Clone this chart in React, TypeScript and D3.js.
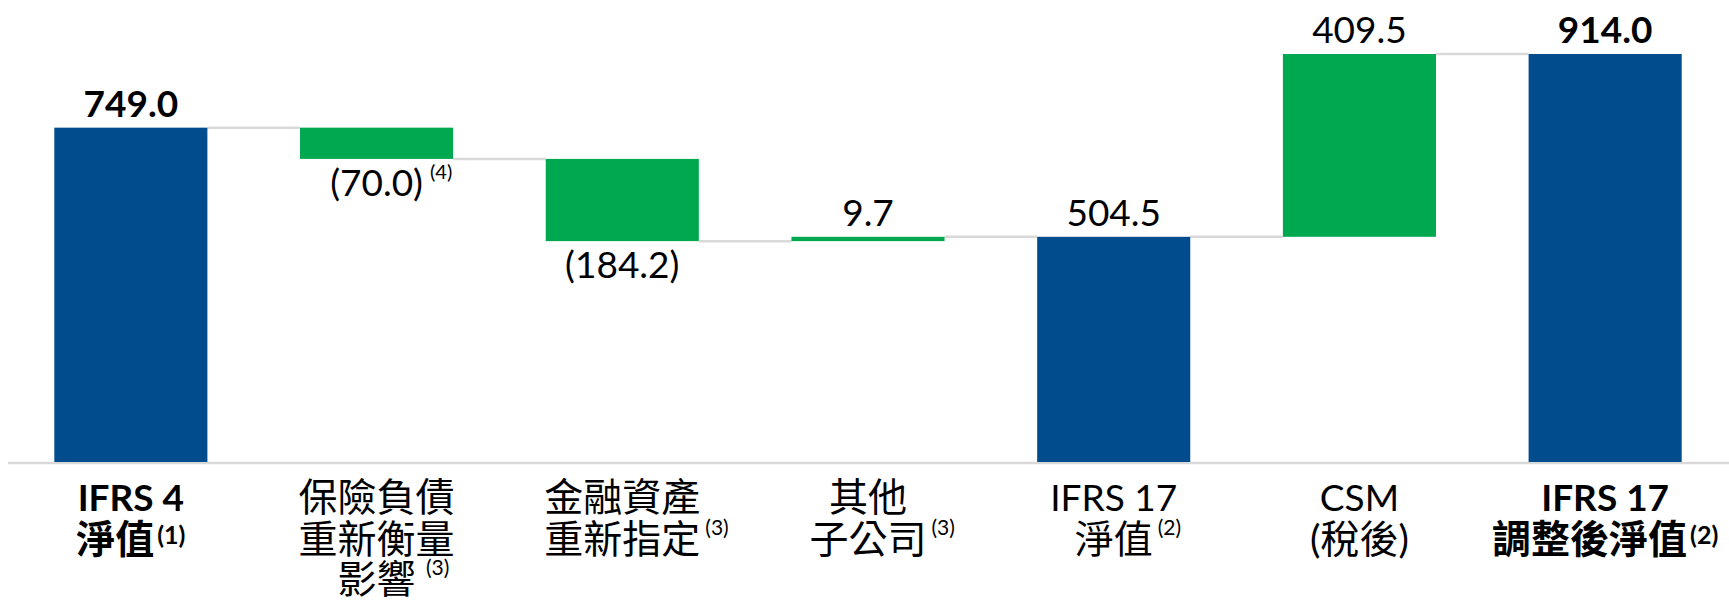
import React, { useEffect, useRef } from 'react';
import * as d3 from 'd3';

const categories = ['ifrs4', 'liab', 'asset', 'sub', 'ifrs17', 'csm', 'adj'];
const kinds = ['total', 'delta', 'delta', 'delta', 'total', 'delta', 'total'];
const values = [749.0, -70.0, -184.2, 9.7, 504.5, 409.5, 914.0];
const valueText = ['749.0', '(70.0)', '(184.2)', '9.7', '504.5', '409.5', '914.0'];
const valueNotes = ['', '(4)', '', '', '', '', ''];
const labelLines = [
  ['IFRS 4', '淨值'],
  ['保險負債', '重新衡量', '影響'],
  ['金融資產', '重新指定'],
  ['其他', '子公司'],
  ['IFRS 17', '淨值'],
  ['CSM', '(稅後)'],
  ['IFRS 17', '調整後淨值'],
];
const labelNotes = ['(1)', '\u00a0(3)', '(3)', '(3)', '(2)', '', '(2)'];
const boldCats = [true, false, false, false, false, false, true];

const W = 1729;
const H = 600;
const BLUE = '#004C8C';
const GREEN = '#00A84F';
const GREY = '#D9D9D9';
const FONT = "Lato, 'Noto Sans CJK TC', sans-serif";

const App: React.FC = () => {
  const svgRef = useRef<SVGSVGElement>(null);

  useEffect(() => {
    const draw = () => {
      if (!svgRef.current) return;
      const svg = d3.select(svgRef.current);
      svg.selectAll('*').remove();

      const x = d3.scaleBand<string>()
        .domain(categories)
        .range([8, 1728])
        .paddingInner(0.377)
        .paddingOuter(0.1885);

      const y = d3.scaleLinear().domain([0, 914]).range([462, 54]);

      // running totals
      let run = 0;
      const bars = categories.map((c, i) => {
        let start: number, end: number;
        if (kinds[i] === 'total') { start = 0; end = values[i]; }
        else { start = run; end = run + values[i]; }
        run = end;
        return { c, i, start, end, lo: Math.min(start, end), hi: Math.max(start, end) };
      });

      // baseline
      svg.append('line')
        .attr('x1', 8).attr('x2', W)
        .attr('y1', y(0) + 1).attr('y2', y(0) + 1)
        .attr('stroke', GREY).attr('stroke-width', 2.5);

      // connectors
      bars.slice(0, -1).forEach((b, i) => {
        const next = categories[i + 1];
        svg.append('line')
          .attr('x1', x(b.c)! + x.bandwidth())
          .attr('x2', x(next)!)
          .attr('y1', y(b.end)).attr('y2', y(b.end))
          .attr('stroke', GREY).attr('stroke-width', 2.5);
      });

      svg.append('g').selectAll('rect')
        .data(bars)
        .join('rect')
        .attr('x', d => x(d.c)!)
        .attr('width', x.bandwidth())
        .attr('y', d => y(d.hi))
        .attr('height', d => y(d.lo) - y(d.hi))
        .attr('fill', d => (kinds[d.i] === 'total' ? BLUE : GREEN));

      // value labels
      bars.forEach(b => {
        const cx = x(b.c)! + x.bandwidth() / 2;
        const neg = values[b.i] < 0;
        const base = neg ? y(b.lo) + 37 : y(b.hi) - 11;
        const t = svg.append('text')
          .attr('x', cx).attr('y', base)
          .attr('text-anchor', 'middle')
          .attr('font-family', FONT)
          .attr('font-size', 37)
          .attr('font-weight', boldCats[b.i] ? 700 : 400)
          .attr('fill', '#000')
          .text(valueText[b.i]);
        if (valueNotes[b.i]) {
          const w = (t.node() as SVGTextElement).getComputedTextLength();
          svg.append('text')
            .attr('x', cx + w / 2 + 7).attr('y', base - 17)
            .attr('font-family', FONT)
            .attr('font-size', 20)
            .attr('fill', '#000')
            .text(valueNotes[b.i]);
        }
      });

      // category labels
      const lineBase = [511, 553, 593];
      categories.forEach((c, i) => {
        const cx = x(c)! + x.bandwidth() / 2;
        const bold = boldCats[i];
        const lines = labelLines[i];
        lines.forEach((ln, j) => {
          const isCjk = /[\u4e00-\u9fff]/.test(ln);
          const t = svg.append('text')
            .attr('y', lineBase[j])
            .attr('font-family', FONT)
            .attr('font-size', isCjk ? 39 : 37)
            .attr('font-weight', bold ? 700 : 400)
            .attr('fill', '#000')
            .text(ln);
          const w = (t.node() as SVGTextElement).getComputedTextLength();
          const note = j === lines.length - 1 ? labelNotes[i] : '';
          if (!note) {
            t.attr('x', cx - w / 2);
            return;
          }
          const n = svg.append('text')
            .attr('y', bold ? lineBase[j] - 9 : lineBase[j] - 18)
            .attr('font-family', FONT)
            .attr('font-size', bold ? 25 : 21)
            .attr('font-weight', bold ? 700 : 400)
            .attr('fill', '#000')
            .text(note);
          const nw = (n.node() as SVGTextElement).getComputedTextLength();
          const gap = bold ? 3 : 5;
          const start = bold ? cx - (w + gap + nw) / 2 : cx - w / 2;
          t.attr('x', start);
          n.attr('x', start + w + gap);
        });
      });
    };

    draw();
    if (document.fonts && document.fonts.ready) document.fonts.ready.then(draw);
  }, []);

  return (
    <div style={{ position: 'absolute', left: 0, top: 0 }}>
      <svg ref={svgRef} width={W} height={H} style={{ display: 'block', background: '#fff' }} />
    </div>
  );
};

export default App;
